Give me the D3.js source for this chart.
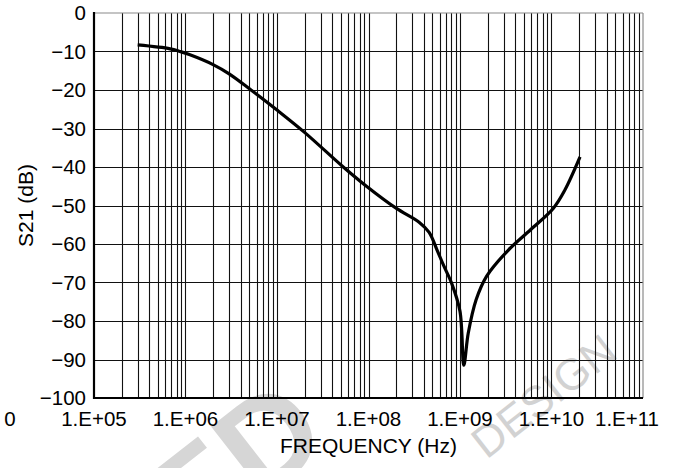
<!DOCTYPE html>
<html>
<head>
<meta charset="utf-8">
<script src="https://cdn.jsdelivr.net/npm/d3@7"></script>
<style>
  html, body { margin: 0; padding: 0; background: #fff; }
  svg { display: block; font-family: "Liberation Sans", Arial, Helvetica, sans-serif; }
</style>
</head>
<body>
<svg id="chart" width="674" height="468"></svg>
<script>
// ---- data ----
const freqHz = [3.0e5, 6.8e5, 8.7e5, 1.1e6, 2.0e6, 3.0e6, 5.2e6, 1.0e7, 2.0e7, 5.3e7, 9.5e7,
                2.0e8, 3.6e8, 4.6e8, 5.6e8, 6.6e8, 8.1e8, 1.0e9, 1.1e9, 1.23e9, 1.5e9, 1.95e9,
                3.4e9, 5.9e9, 1.05e10, 1.4e10, 2.05e10];
const s21dB  = [-8.3, -9.3, -10.0, -10.8, -13.4, -15.8, -20.0, -25.2, -31.0, -40.0, -45.0,
                -50.7, -54.4, -57.0, -61.5, -65.5, -70.2, -77.5, -91.5, -83.2, -74.5, -68.4,
                -61.5, -56.3, -50.7, -46.0, -37.4];
const xTickValues = [1e4, 1e5, 1e6, 1e7, 1e8, 1e9, 1e10, 1e11];
const xTickLabels = ["0", "1.E+05", "1.E+06", "1.E+07", "1.E+08", "1.E+09", "1.E+10", "1.E+11"];
const yTickValues = [0, -10, -20, -30, -40, -50, -60, -70, -80, -90, -100];
const yTickLabels = ["0", "\u221210", "\u221220", "\u221230", "\u221240", "\u221250", "\u221260", "\u221270", "\u221280", "\u221290", "\u2212100"];
const xTitle = "FREQUENCY (Hz)";
const yTitle = "S21 (dB)";

// ---- layout ----
const svg = d3.select("#chart");
const pL = 94, pR = 643, pT = 13, pB = 398;
const x = d3.scaleLog().domain([1e5, 1e11]).range([pL, pR]);
const y = d3.scaleLinear().domain([-100, 0]).range([pB, pT]);

// watermark (faint)
svg.append("text")
  .attr("transform", "translate(553,408) rotate(-38)")
  .attr("text-anchor", "middle")
  .attr("font-size", 44)
  .attr("fill", "#d2d2d2")
  .text("DESIGN");
svg.append("text")
  .attr("transform", "translate(262,500) rotate(-38)")
  .attr("text-anchor", "middle")
  .attr("font-size", 130)
  .attr("font-weight", "bold")
  .attr("fill", "#d6d6d6")
  .text("ED");

// vertical grid (minor log lines)
const vGrid = [];
for (let d = 5; d <= 10; d++) for (let m = 1; m <= 9; m++) vGrid.push(m * Math.pow(10, d));
svg.append("g").selectAll("line").data(vGrid.slice(1)).join("line")
  .attr("x1", d => Math.round(x(d)) + 0.5).attr("x2", d => Math.round(x(d)) + 0.5)
  .attr("y1", pT).attr("y2", pB)
  .attr("stroke", "#111").attr("stroke-width", 1.1);

// horizontal grid
svg.append("g").selectAll("line").data(yTickValues.filter(v => v > -100 && v < 0)).join("line")
  .attr("x1", pL).attr("x2", pR)
  .attr("y1", d => Math.round(y(d)) + 0.5).attr("y2", d => Math.round(y(d)) + 0.5)
  .attr("stroke", "#111").attr("stroke-width", 1.1);

// top & right border (grey)
svg.append("line").attr("x1", pL).attr("x2", pR).attr("y1", y(0)).attr("y2", y(0))
  .attr("stroke", "#8a8a8a").attr("stroke-width", 1.2);
svg.append("line").attr("x1", x(1e11)).attr("x2", x(1e11)).attr("y1", pT).attr("y2", pB)
  .attr("stroke", "#8a8a8a").attr("stroke-width", 1.2);

// left & bottom axes (thick)
svg.append("line").attr("x1", pL).attr("x2", pL).attr("y1", pT - 1).attr("y2", pB + 1)
  .attr("stroke", "#000").attr("stroke-width", 2.2);
svg.append("line").attr("x1", pL - 1).attr("x2", pR).attr("y1", pB).attr("y2", pB)
  .attr("stroke", "#000").attr("stroke-width", 2.2);

// curve
const pts = freqHz.map((f, i) => [x(f), y(s21dB[i])]);
svg.append("path")
  .attr("d", d3.line().curve(d3.curveCatmullRom.alpha(0.5))(pts))
  .attr("fill", "none").attr("stroke", "#000").attr("stroke-width", 3.2)
  .attr("stroke-linejoin", "round").attr("stroke-linecap", "butt");

// y tick labels
svg.append("g").selectAll("text").data(yTickValues).join("text")
  .attr("x", 86).attr("y", d => y(d)).attr("dy", "0.36em")
  .attr("text-anchor", "end").attr("font-size", 20.5).attr("fill", "#000")
  .text((d, i) => yTickLabels[i]);

// x tick labels
svg.append("g").selectAll("text").data(xTickValues).join("text")
  .attr("x", d => Math.min(627, Math.max(10, x(d))))
  .attr("y", 426)
  .attr("text-anchor", "middle").attr("font-size", 20.5).attr("fill", "#000")
  .text((d, i) => xTickLabels[i]);

// axis titles
svg.append("text").attr("x", (pL + pR) / 2).attr("y", 453)
  .attr("text-anchor", "middle").attr("font-size", 21).attr("fill", "#000").text(xTitle);
svg.append("text").attr("transform", `translate(33,${(pT + pB) / 2}) rotate(-90)`)
  .attr("text-anchor", "middle").attr("font-size", 21).attr("fill", "#000").text(yTitle);
</script>
</body>
</html>
